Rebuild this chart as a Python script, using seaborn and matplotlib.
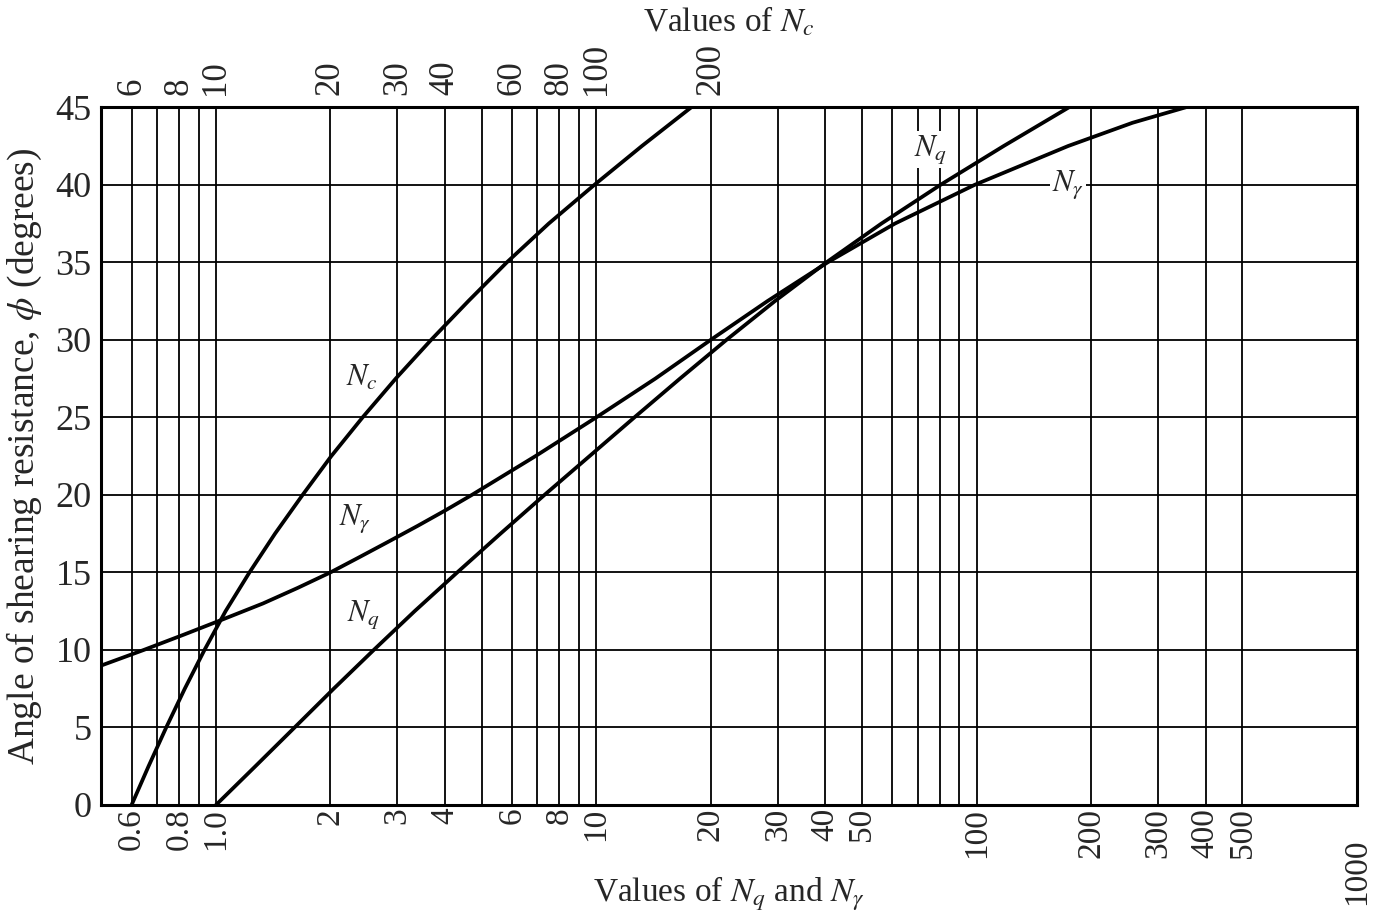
import matplotlib
matplotlib.use("Agg")
import matplotlib.pyplot as plt
import seaborn as sns
from matplotlib.ticker import FixedLocator, FixedFormatter, NullFormatter

# Bearing capacity factors against angle of shearing resistance (degrees)
phi_c = [0, 2.5, 5, 7.5, 10, 12.5, 15, 17.5, 20, 22.5, 25, 27.5, 30,
         32.5, 35, 37.5, 40, 42.5, 45]
n_c = [6.0, 6.65, 7.4, 8.28, 9.33, 10.6, 12.25, 14.3, 16.9, 20.1, 24.3,
       29.7, 36.8, 46.1, 58.2, 75.0, 98.9, 131.8, 177.8]

phi_q = [0, 2.5, 5, 7.5, 10, 12.5, 15, 17.5, 20, 22.5, 25, 27.5, 30,
         32.5, 35, 37.5, 40, 42.5, 45]
n_q = [1.0, 1.27, 1.61, 2.04, 2.6, 3.33, 4.31, 5.6, 7.31, 9.6, 12.6,
       16.6, 22.0, 29.5, 40.3, 56.2, 80.4, 117.8, 175.0]

phi_g = [9, 10, 11, 12, 13, 14, 15, 16, 17, 18, 19, 20, 22.5, 25, 27.5,
         30, 32.5, 35, 37.5, 40, 42.5, 44, 45]
n_g = [0.5, 0.646, 0.826, 1.05, 1.33, 1.64, 2.0, 2.39, 2.85, 3.39, 4.01,
       4.71, 6.92, 10.0, 14.3, 20.0, 28.2, 40.6, 61.0, 98.9, 174.0, 257.0,
       355.0]

# Axis ticks
bottom_ticks = [0.6, 0.8, 1.0, 2, 3, 4, 6, 8, 10, 20, 30, 40, 50,
                100, 200, 300, 400, 500, 1000]
bottom_labels = ["0.6", "0.8", "1.0", "2", "3", "4", "6", "8", "10", "20",
                 "30", "40", "50", "100", "200", "300", "400", "500", "1000"]
bottom_grid_extra = [0.7, 0.9, 5, 7, 9, 60, 70, 80, 90]
top_ticks = [6, 8, 10, 20, 30, 40, 60, 80, 100, 200]
top_labels = ["6", "8", "10", "20", "30", "40", "60", "80", "100", "200"]
phi_ticks = [0, 5, 10, 15, 20, 25, 30, 35, 40, 45]

sns.set_theme(style="white")
plt.rcParams["font.family"] = ["Liberation Serif", "DejaVu Serif"]
plt.rcParams["mathtext.fontset"] = "stix"

fig = plt.figure(figsize=(13.86, 9.24), dpi=100)
fig.patch.set_facecolor("white")
ax = fig.add_axes([0.0732, 0.1288, 0.9058, 0.7551])

line_kw = dict(color="black", linewidth=2.7)
sns.lineplot(x=n_q, y=phi_q, ax=ax, **line_kw)
sns.lineplot(x=n_g, y=phi_g, ax=ax, **line_kw)
ax.set_xscale("log")
ax.set_xlim(0.5, 1000)

# N_c is read on the upper scale (ten times the lower one)
ax2 = ax.twiny()
sns.lineplot(x=n_c, y=phi_c, ax=ax2, **line_kw)
ax2.set_xscale("log")
ax2.set_xlim(5, 10000)
ax.set_ylim(0, 45)

grid_kw = dict(color="black", linewidth=1.3)
ax.set_axisbelow(True)
ax.xaxis.set_major_locator(FixedLocator(bottom_ticks))
ax.xaxis.set_major_formatter(FixedFormatter(bottom_labels))
ax.xaxis.set_minor_locator(FixedLocator(bottom_grid_extra))
ax.xaxis.set_minor_formatter(NullFormatter())
ax.yaxis.set_major_locator(FixedLocator(phi_ticks))
ax.grid(True, which="both", axis="x", **grid_kw)
ax.grid(True, which="major", axis="y", **grid_kw)
ax.tick_params(axis="x", which="both", length=0, labelrotation=90,
               labelsize=24, pad=2)
ax.tick_params(axis="y", which="both", length=0, labelsize=26, pad=7)
ax.xaxis.get_major_ticks()[-1].set_pad(24)

ax2.grid(False)
ax2.xaxis.set_major_locator(FixedLocator(top_ticks))
ax2.xaxis.set_major_formatter(FixedFormatter(top_labels))
ax2.xaxis.set_minor_locator(FixedLocator([]))
ax2.tick_params(axis="x", which="both", length=0, labelrotation=90,
                labelsize=25, pad=9)

for s in ax.spines.values():
    s.set_color("black")
    s.set_linewidth(2.2)
for s in ax2.spines.values():
    s.set_visible(False)

ax.set_ylabel(r"Angle of shearing resistance, $\phi$ (degrees)", fontsize=27)
ax.yaxis.set_label_coords(-0.046, 0.5)
ax.set_xlabel(r"Values of $N_q$ and $N_\gamma$", fontsize=24)
ax.xaxis.set_label_coords(0.5, -0.100)
ax2.set_xlabel(r"Values of $N_c$", fontsize=24)
ax2.xaxis.set_label_coords(0.5, 1.109)

# Curve annotations
lab_kw = dict(fontsize=22, ha="center", va="center")
ax2.text(24.2, 27.5, r"$N_c$", **lab_kw)
ax.text(2.32, 18.5, r"$N_\gamma$", **lab_kw)
ax.text(2.44, 12.3, r"$N_q$", **lab_kw)
box = dict(facecolor="white", edgecolor="none", pad=1.5)
ax.text(75.7, 42.3, r"$N_q$", bbox=box, **lab_kw)
ax.text(174, 40.0, r"$N_\gamma$", bbox=box, **lab_kw)

fig.savefig("out.png", dpi=100, facecolor="white")
